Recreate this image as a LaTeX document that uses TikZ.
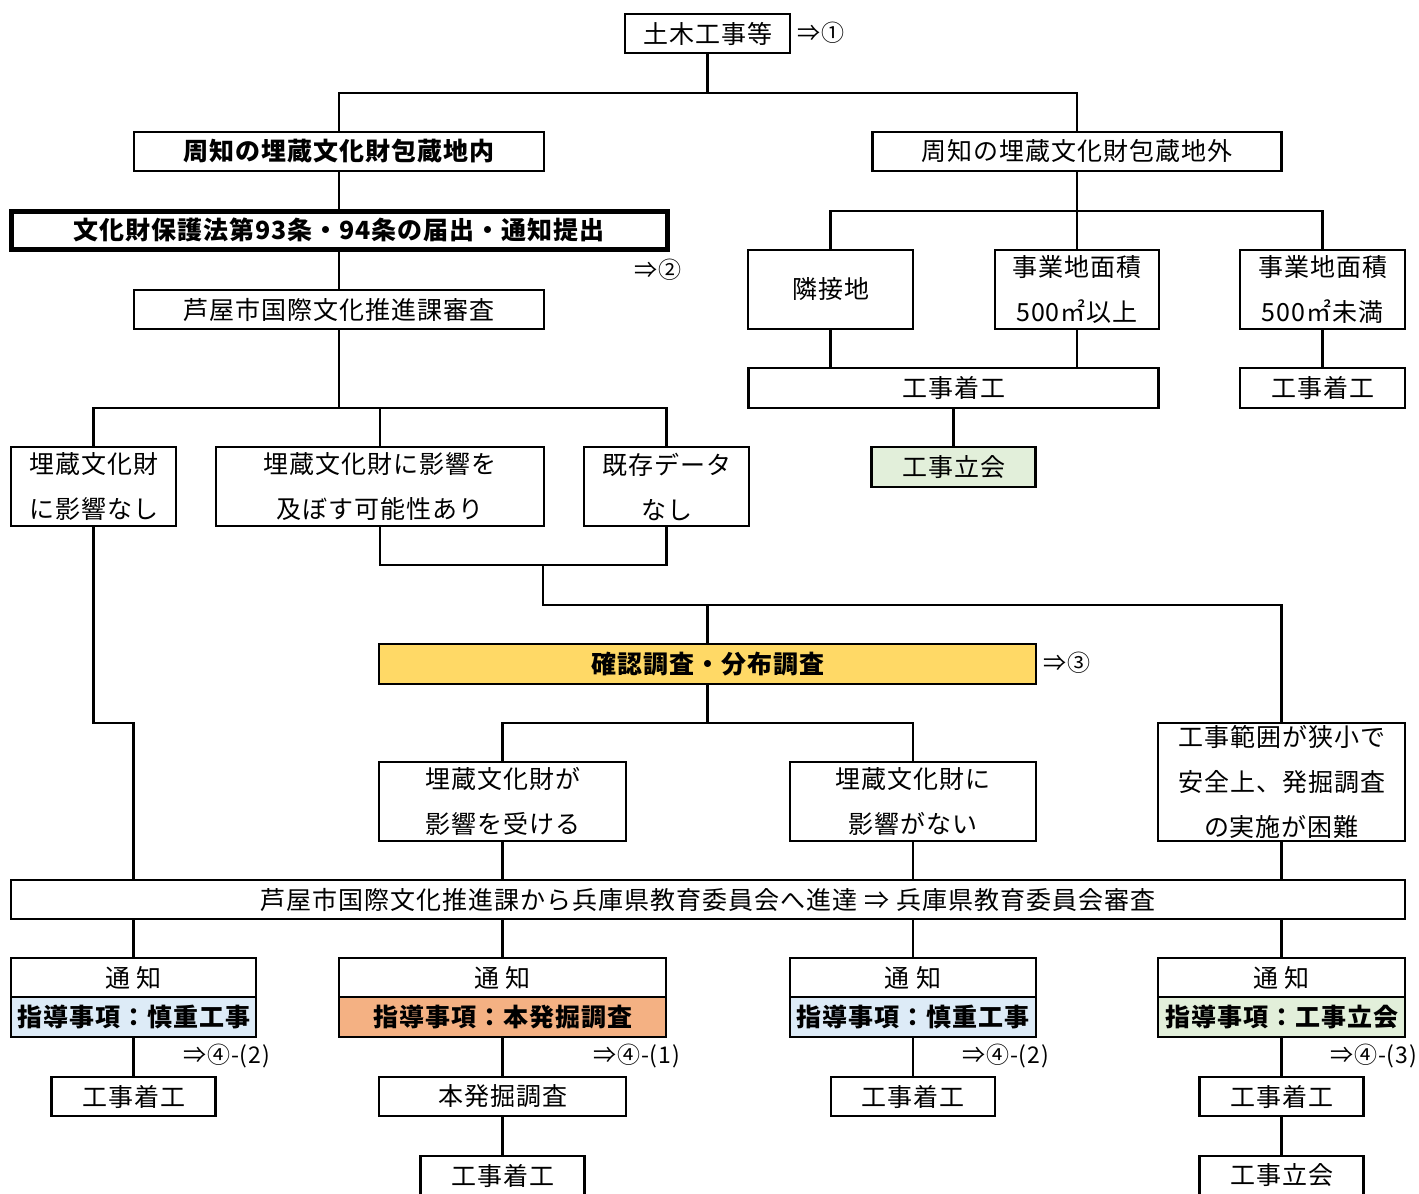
\documentclass[tikz,border=0pt]{standalone}
\usepackage{fontspec}
\setmainfont{Noto Sans CJK JP}[LetterSpace=4]
\usetikzlibrary{calc}
\newcommand\jpfont{\fontsize{25}{45}\selectfont}
\newcommand\notefont{\fontsize{23}{26}\selectfont}
\definecolor{chousayellow}{HTML}{FFD966}
\definecolor{shinchoblue}{HTML}{DDEBF7}
\definecolor{honsalmon}{HTML}{F4B183}
\definecolor{tachiaigreen}{HTML}{E2EFDA}

\begin{document}
\begin{tikzpicture}[x=1pt,y=-1pt]
				\tikzstyle{box}=[draw,line width=2.8pt,inner sep=0pt,align=center,font=\jpfont]
				\tikzstyle{boldbox}=[box,font=\jpfont\bfseries]
				\tikzstyle{tieline}=[line width=2.8pt]
				\tikzstyle{note}=[inner sep=0pt,anchor=west,font=\notefont]
				\useasboundingbox (0,0) rectangle (1419,1194);

				% upper part
				\node[box,minimum width=165pt,minimum height=39pt] (doboku) at (707.5,33.5) {土木工事等};
				\node[boldbox,minimum width=410pt,minimum height=39pt] (nai) at (339,151.5) {周知の埋蔵文化財包蔵地内};
				\node[box,minimum width=409pt,minimum height=39pt] (gai) at (1077,151.5) {周知の埋蔵文化財包蔵地外};
				\node[boldbox,line width=5pt,minimum width=656pt,minimum height=38pt] (todoke) at (339,230) {文化財保護法第93条・94条の届出・通知提出};
				\node[box,minimum width=410pt,minimum height=39pt] (shinsa) at (339,309.5) {芦屋市国際文化推進課審査};

				\node[box,minimum width=165pt,minimum height=79pt] (eikyonashi) at (93.5,486.5) {埋蔵文化財\\に影響なし};
				\node[box,minimum width=328pt,minimum height=79pt] (kanousei) at (380,486.5) {埋蔵文化財に影響を\\及ぼす可能性あり};
				\node[box,minimum width=165pt,minimum height=79pt] (kizon) at (666.5,486.5) {既存データ\\なし};

				\node[box,minimum width=165pt,minimum height=79pt] (rinsetsu) at (830.5,289.5) {隣接地};
				\node[box,minimum width=164pt,minimum height=79pt] (ijou) at (1077,289.5) {事業地面積\\500㎡以上};
				\node[box,minimum width=165pt,minimum height=79pt] (miman) at (1322.5,289.5) {事業地面積\\500㎡未満};
				\node[box,minimum width=410pt,minimum height=40pt] (chakouR) at (953.5,388) {工事着工};
				\node[box,minimum width=165pt,minimum height=40pt] (chakouM) at (1322.5,388) {工事着工};
				\node[box,fill=tachiaigreen,minimum width=164pt,minimum height=40pt] (tachiai) at (953.5,467) {工事立会};

				% middle part
				\node[boldbox,fill=chousayellow,minimum width=657pt,minimum height=40pt] (kakunin) at (707.5,664) {確認調査・分布調査};
				\node[box,minimum width=247pt,minimum height=79pt] (ukeru) at (502.5,801.5) {埋蔵文化財が\\影響を受ける};
				\node[box,minimum width=246pt,minimum height=79pt] (eikyonai) at (913,801.5) {埋蔵文化財に\\影響がない};
				\node[box,minimum width=247pt,minimum height=118pt] (hani) at (1281.5,782) {工事範囲が狭小で\\安全上、発掘調査\\の実施が困難};
				\node[box,minimum width=1394pt,minimum height=39pt] (shintatsu) at (708,899.5) {芦屋市国際文化推進課から兵庫県教育委員会へ進達 ⇒ 兵庫県教育委員会審査};

				% lower part
				\node[box,minimum width=245pt,minimum height=39pt] (tsuchi1) at (133.5,977.5) {通 知};
				\node[boldbox,fill=shinchoblue,minimum width=245pt,minimum height=40pt] (shido1) at (133.5,1017) {指導事項：慎重工事};
				\node[box,minimum width=327pt,minimum height=39pt] (tsuchi2) at (502.5,977.5) {通 知};
				\node[boldbox,fill=honsalmon,minimum width=327pt,minimum height=40pt] (shido2) at (502.5,1017) {指導事項：本発掘調査};
				\node[box,minimum width=246pt,minimum height=39pt] (tsuchi3) at (913,977.5) {通 知};
				\node[boldbox,fill=shinchoblue,minimum width=246pt,minimum height=40pt] (shido3) at (913,1017) {指導事項：慎重工事};
				\node[box,minimum width=247pt,minimum height=39pt] (tsuchi4) at (1281.5,977.5) {通 知};
				\node[boldbox,fill=tachiaigreen,minimum width=247pt,minimum height=40pt] (shido4) at (1281.5,1017) {指導事項：工事立会};

				\node[box,minimum width=164pt,minimum height=39pt] (chakou1) at (133.5,1096.5) {工事着工};
				\node[box,minimum width=247pt,minimum height=39pt] (honchousa) at (502.5,1096.5) {本発掘調査};
				\node[box,minimum width=164pt,minimum height=39pt] (chakou2) at (502.5,1175.5) {工事着工};
				\node[box,minimum width=164pt,minimum height=39pt] (chakou3) at (913,1096.5) {工事着工};
				\node[box,minimum width=164pt,minimum height=39pt] (chakou4) at (1281.5,1096.5) {工事着工};
				\node[box,minimum width=164pt,minimum height=39pt] (tachiai2) at (1281.5,1175.5) {工事立会};

				% references
				\node[note] (ref1) at (797,33) {⇒①};
				\node[note] (ref2) at (634,270) {⇒②};
				\node[note] (ref3) at (1043,663) {⇒③};
				\node[note] (ref42a) at (183,1056) {⇒④-(2)};
				\node[note] (ref41) at (593,1056) {⇒④-(1)};
				\node[note] (ref42b) at (962,1056) {⇒④-(2)};
				\node[note] (ref43) at (1330,1056) {⇒④-(3)};

				% connectors
				\coordinate (j1) at (707.5,93);
				\coordinate (j2) at (339,408);
				\coordinate (j3) at (543,565);
				\coordinate (j4) at (543,605);
				\coordinate (j5) at (133.5,723);
				\coordinate (j6) at (707.5,723);
				\coordinate (j7) at (1077,211);
				\draw[tieline] (doboku) -- (j1);
				\draw[tieline] (nai) |- (j1) -| (gai);
				\draw[tieline] (nai) -- (todoke);
				\draw[tieline] (todoke) -- (shinsa);
				\draw[tieline] (shinsa) -- (j2);
				\draw[tieline] (eikyonashi) |- (j2) -| (kizon);
				\draw[tieline] (j2) -| (kanousei);
				\draw[tieline] (kanousei) |- (j3) -| (kizon);
				\draw[tieline] (j3) -- (j4) -| (hani);
				\draw[tieline] (kakunin) |- (j4);
				\draw[tieline] (eikyonashi) |- (j5) -- (j5 |- shintatsu.north);
				\draw[tieline] (kakunin) -- (j6);
				\draw[tieline] (ukeru) |- (j6) -| (eikyonai);
				\draw[tieline] (ukeru) -- (ukeru |- shintatsu.north);
				\draw[tieline] (eikyonai) -- (eikyonai |- shintatsu.north);
				\draw[tieline] (hani) -- (hani |- shintatsu.north);
				\draw[tieline] (gai) -- (j7);
				\draw[tieline] (rinsetsu) |- (j7) -| (miman);
				\draw[tieline] (ijou) -- (j7);
				\draw[tieline] (rinsetsu) -- (rinsetsu |- chakouR.north);
				\draw[tieline] (ijou) -- (ijou |- chakouR.north);
				\draw[tieline] (miman) -- (chakouM);
				\draw[tieline] (chakouR) -- (tachiai);
				\draw[tieline] (shintatsu.south -| tsuchi1) -- (tsuchi1);
				\draw[tieline] (shintatsu.south -| tsuchi2) -- (tsuchi2);
				\draw[tieline] (shintatsu.south -| tsuchi3) -- (tsuchi3);
				\draw[tieline] (shintatsu.south -| tsuchi4) -- (tsuchi4);
				\draw[tieline] (shido1) -- (chakou1);
				\draw[tieline] (shido2) -- (honchousa);
				\draw[tieline] (honchousa) -- (chakou2);
				\draw[tieline] (shido3) -- (chakou3);
				\draw[tieline] (shido4) -- (chakou4);
				\draw[tieline] (chakou4) -- (tachiai2);
\end{tikzpicture}
\end{document}
